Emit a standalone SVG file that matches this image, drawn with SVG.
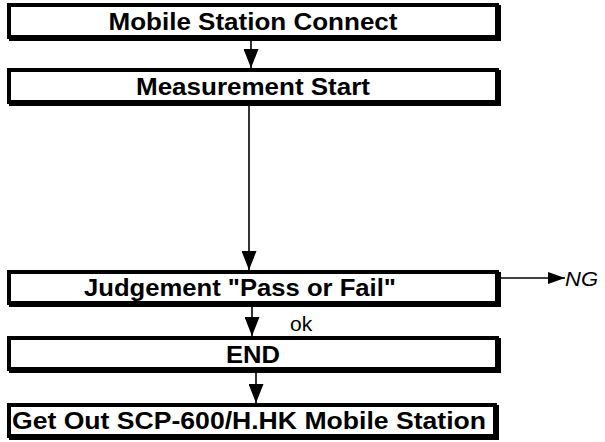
<svg xmlns="http://www.w3.org/2000/svg" width="605" height="442" viewBox="0 0 605 442">
<style>
.box{fill:#fff;stroke:#000;stroke-width:4}
.sh{fill:#000}
.t{font-family:"Liberation Sans",Arial,sans-serif;font-weight:bold;font-size:24px;fill:#000}
.ln{stroke:#000;stroke-width:1.6;fill:none}
.lbl{font-family:"Liberation Sans",Arial,sans-serif;font-size:21px;fill:#000}
</style>
<defs>
<marker id="ah" markerUnits="userSpaceOnUse" markerWidth="19" markerHeight="15" refX="19" refY="7.5" orient="auto" viewBox="0 0 19 15">
<path d="M0,0 L19,7.5 L0,15 Z" fill="#000"/>
</marker>
<marker id="ahs" markerUnits="userSpaceOnUse" markerWidth="17" markerHeight="12" refX="17" refY="6" orient="auto" viewBox="0 0 17 12">
<path d="M0,0 L17,6 L0,12 Z" fill="#000"/>
</marker>
</defs>
<g id="connectors">
<line class="ln" x1="251" y1="39" x2="251" y2="68" marker-end="url(#ah)"/>
<line class="ln" x1="249" y1="104" x2="249" y2="270" marker-end="url(#ah)"/>
<line class="ln" x1="252" y1="303" x2="252" y2="336" marker-end="url(#ah)"/>
<line class="ln" x1="256" y1="371" x2="256" y2="403" marker-end="url(#ah)"/>
<line class="ln" x1="501" y1="278" x2="565" y2="278" marker-end="url(#ahs)"/>
<text class="lbl" x="290" y="331">ok</text>
<text class="lbl" x="565" y="286" font-style="italic" textLength="33" lengthAdjust="spacingAndGlyphs">NG</text>
</g>
<g id="n1">
<rect class="sh" x="9" y="5" width="492" height="36"/>
<rect class="box" x="9" y="5" width="488" height="32"/>
<text class="t" x="253" y="29.5" text-anchor="middle" textLength="289" lengthAdjust="spacingAndGlyphs">Mobile Station Connect</text>
</g>
<g id="n2">
<rect class="sh" x="9" y="70" width="492" height="36"/>
<rect class="box" x="9" y="70" width="488" height="32"/>
<text class="t" x="253" y="94.5" text-anchor="middle" textLength="234" lengthAdjust="spacingAndGlyphs">Measurement Start</text>
</g>
<g id="n3">
<rect class="sh" x="9" y="272" width="492" height="35"/>
<rect class="box" x="9" y="272" width="488" height="31"/>
<text class="t" x="240" y="296" text-anchor="middle" textLength="312" lengthAdjust="spacingAndGlyphs">Judgement "Pass or Fail"</text>
</g>
<g id="n4">
<rect class="sh" x="9" y="338" width="492" height="35"/>
<rect class="box" x="9" y="338" width="488" height="31"/>
<text class="t" x="253" y="362.5" text-anchor="middle" textLength="54" lengthAdjust="spacingAndGlyphs">END</text>
</g>
<g id="n5">
<rect class="sh" x="9" y="405" width="490" height="35"/>
<rect class="box" x="9" y="405" width="486" height="31"/>
<text class="t" x="12" y="429" textLength="474" lengthAdjust="spacingAndGlyphs">Get Out SCP-600/H.HK Mobile Station</text>
</g>
</svg>
